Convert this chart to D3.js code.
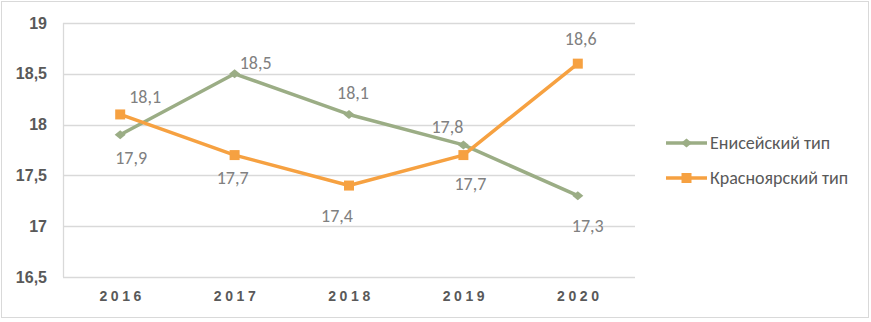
<!DOCTYPE html>
<html>
<head>
<meta charset="utf-8">
<script src="https://cdn.jsdelivr.net/npm/d3@7"></script>
<style>
  body { margin: 0; background: #fff; }
  svg { font-family: Calibri, Carlito, "Liberation Sans", "Open Sans", sans-serif; }
</style>
</head>
<body>
<svg width="871" height="322"></svg>
<script>
// data
var years = ["2016", "2017", "2018", "2019", "2020"];
var enisei = [17.9, 18.5, 18.1, 17.8, 17.3];
var krasn = [18.1, 17.7, 17.4, 17.7, 18.6];
var yTicks = [16.5, 17, 17.5, 18, 18.5, 19];
var seriesNames = ["Енисейский тип", "Красноярский тип"];

var svg = d3.select("svg"),
    margin = {top: 23, right: 236, bottom: 45, left: 63},
    width = 871 - margin.left - margin.right,
    height = 322 - margin.top - margin.bottom;

var green = "#9bad85", orange = "#f6a141";

svg.append("rect")
    .attr("x", 1.5).attr("y", 1.5)
    .attr("width", 867).attr("height", 316)
    .attr("fill", "#fff").attr("stroke", "#d9d9d9");

var g = svg.append("g").attr("transform", "translate(" + margin.left + "," + margin.top + ")");

var x = d3.scaleBand().domain(years).range([0, width]);
var y = d3.scaleLinear().domain([16.5, 19]).range([height, 0]);

// grid
g.selectAll(".grid")
    .data(yTicks)
    .enter().append("line")
    .attr("x1", 0).attr("x2", width)
    .attr("y1", function(d) { return Math.round(y(d)) + 0.5; })
    .attr("y2", function(d) { return Math.round(y(d)) + 0.5; })
    .attr("stroke", "#d9d9d9").attr("stroke-width", 1.3);

g.append("line")
    .attr("x1", 0.5).attr("x2", 0.5)
    .attr("y1", 0).attr("y2", height)
    .attr("stroke", "#d9d9d9").attr("stroke-width", 1.3);

// y axis
var fmt = function(d) { return String(d).replace(".", ","); };
var yAxis = g.append("g")
    .call(d3.axisLeft(y).tickValues(yTicks).tickFormat(fmt).tickSize(0).tickPadding(16));
yAxis.select(".domain").remove();
yAxis.selectAll("text")
    .attr("fill", "#595959")
    .style("font-size", "16px")
    .style("font-weight", "bold");

// x axis
var xAxis = g.append("g")
    .attr("transform", "translate(0," + height + ")")
    .call(d3.axisBottom(x).tickSize(0).tickPadding(14));
xAxis.select(".domain").remove();
xAxis.selectAll("text")
    .attr("fill", "#595959")
    .attr("dx", "2px")
    .style("font-size", "14px")
    .style("font-weight", "bold")
    .style("letter-spacing", "3.6px");

var cx = function(i) { return x(years[i]) + x.bandwidth() / 2; };

var line = d3.line()
    .x(function(d, i) { return cx(i); })
    .y(function(d) { return y(d); });

// flat diamond like the Excel marker
var diamond = "M-5.5,0L0,-4.5L5.5,0L0,4.5Z";
var square = "M-5,-5H5V5H-5Z";

var series = [
    {name: seriesNames[0], values: enisei, color: green, shape: diamond,
     // label offsets [dx, dy]
     labels: [[11, 23], [21, -11], [4, -22], [-16, -18], [10, 30]]},
    {name: seriesNames[1], values: krasn, color: orange, shape: square,
     labels: [[25, -18], [-2, 23], [-12, 30], [7, 29], [3, -25]]}
];

series.forEach(function(s) {
    g.append("path")
        .datum(s.values)
        .attr("fill", "none")
        .attr("stroke", s.color)
        .attr("stroke-width", 3.5)
        .attr("stroke-linejoin", "round")
        .attr("d", line);
});

series.forEach(function(s) {
    g.selectAll(null)
        .data(s.values)
        .enter().append("path")
        .attr("d", s.shape)
        .attr("transform", function(d, i) { return "translate(" + cx(i) + "," + y(d) + ")"; })
        .attr("fill", s.color);

    g.selectAll(null)
        .data(s.values)
        .enter().append("text")
        .attr("x", function(d, i) { return cx(i) + s.labels[i][0]; })
        .attr("y", function(d, i) { return y(d) + s.labels[i][1]; })
        .attr("dy", "0.35em")
        .attr("text-anchor", "middle")
        .attr("fill", "#808080")
        .style("font-size", "18px")
        .text(function(d) { return fmt(d); });
});

// legend
var legend = svg.append("g").attr("transform", "translate(666,143)");
series.forEach(function(s, i) {
    var lg = legend.append("g").attr("transform", "translate(0," + i * 35 + ")");
    lg.append("line")
        .attr("x1", 0).attr("x2", 41)
        .attr("stroke", s.color).attr("stroke-width", 3.5);
    lg.append("path")
        .attr("d", s.shape)
        .attr("transform", "translate(20.5,0)")
        .attr("fill", s.color);
    lg.append("text")
        .attr("x", 44).attr("dy", "0.35em")
        .attr("fill", "#595959")
        .style("font-size", "18px")
        .text(s.name);
});
</script>
</body>
</html>
